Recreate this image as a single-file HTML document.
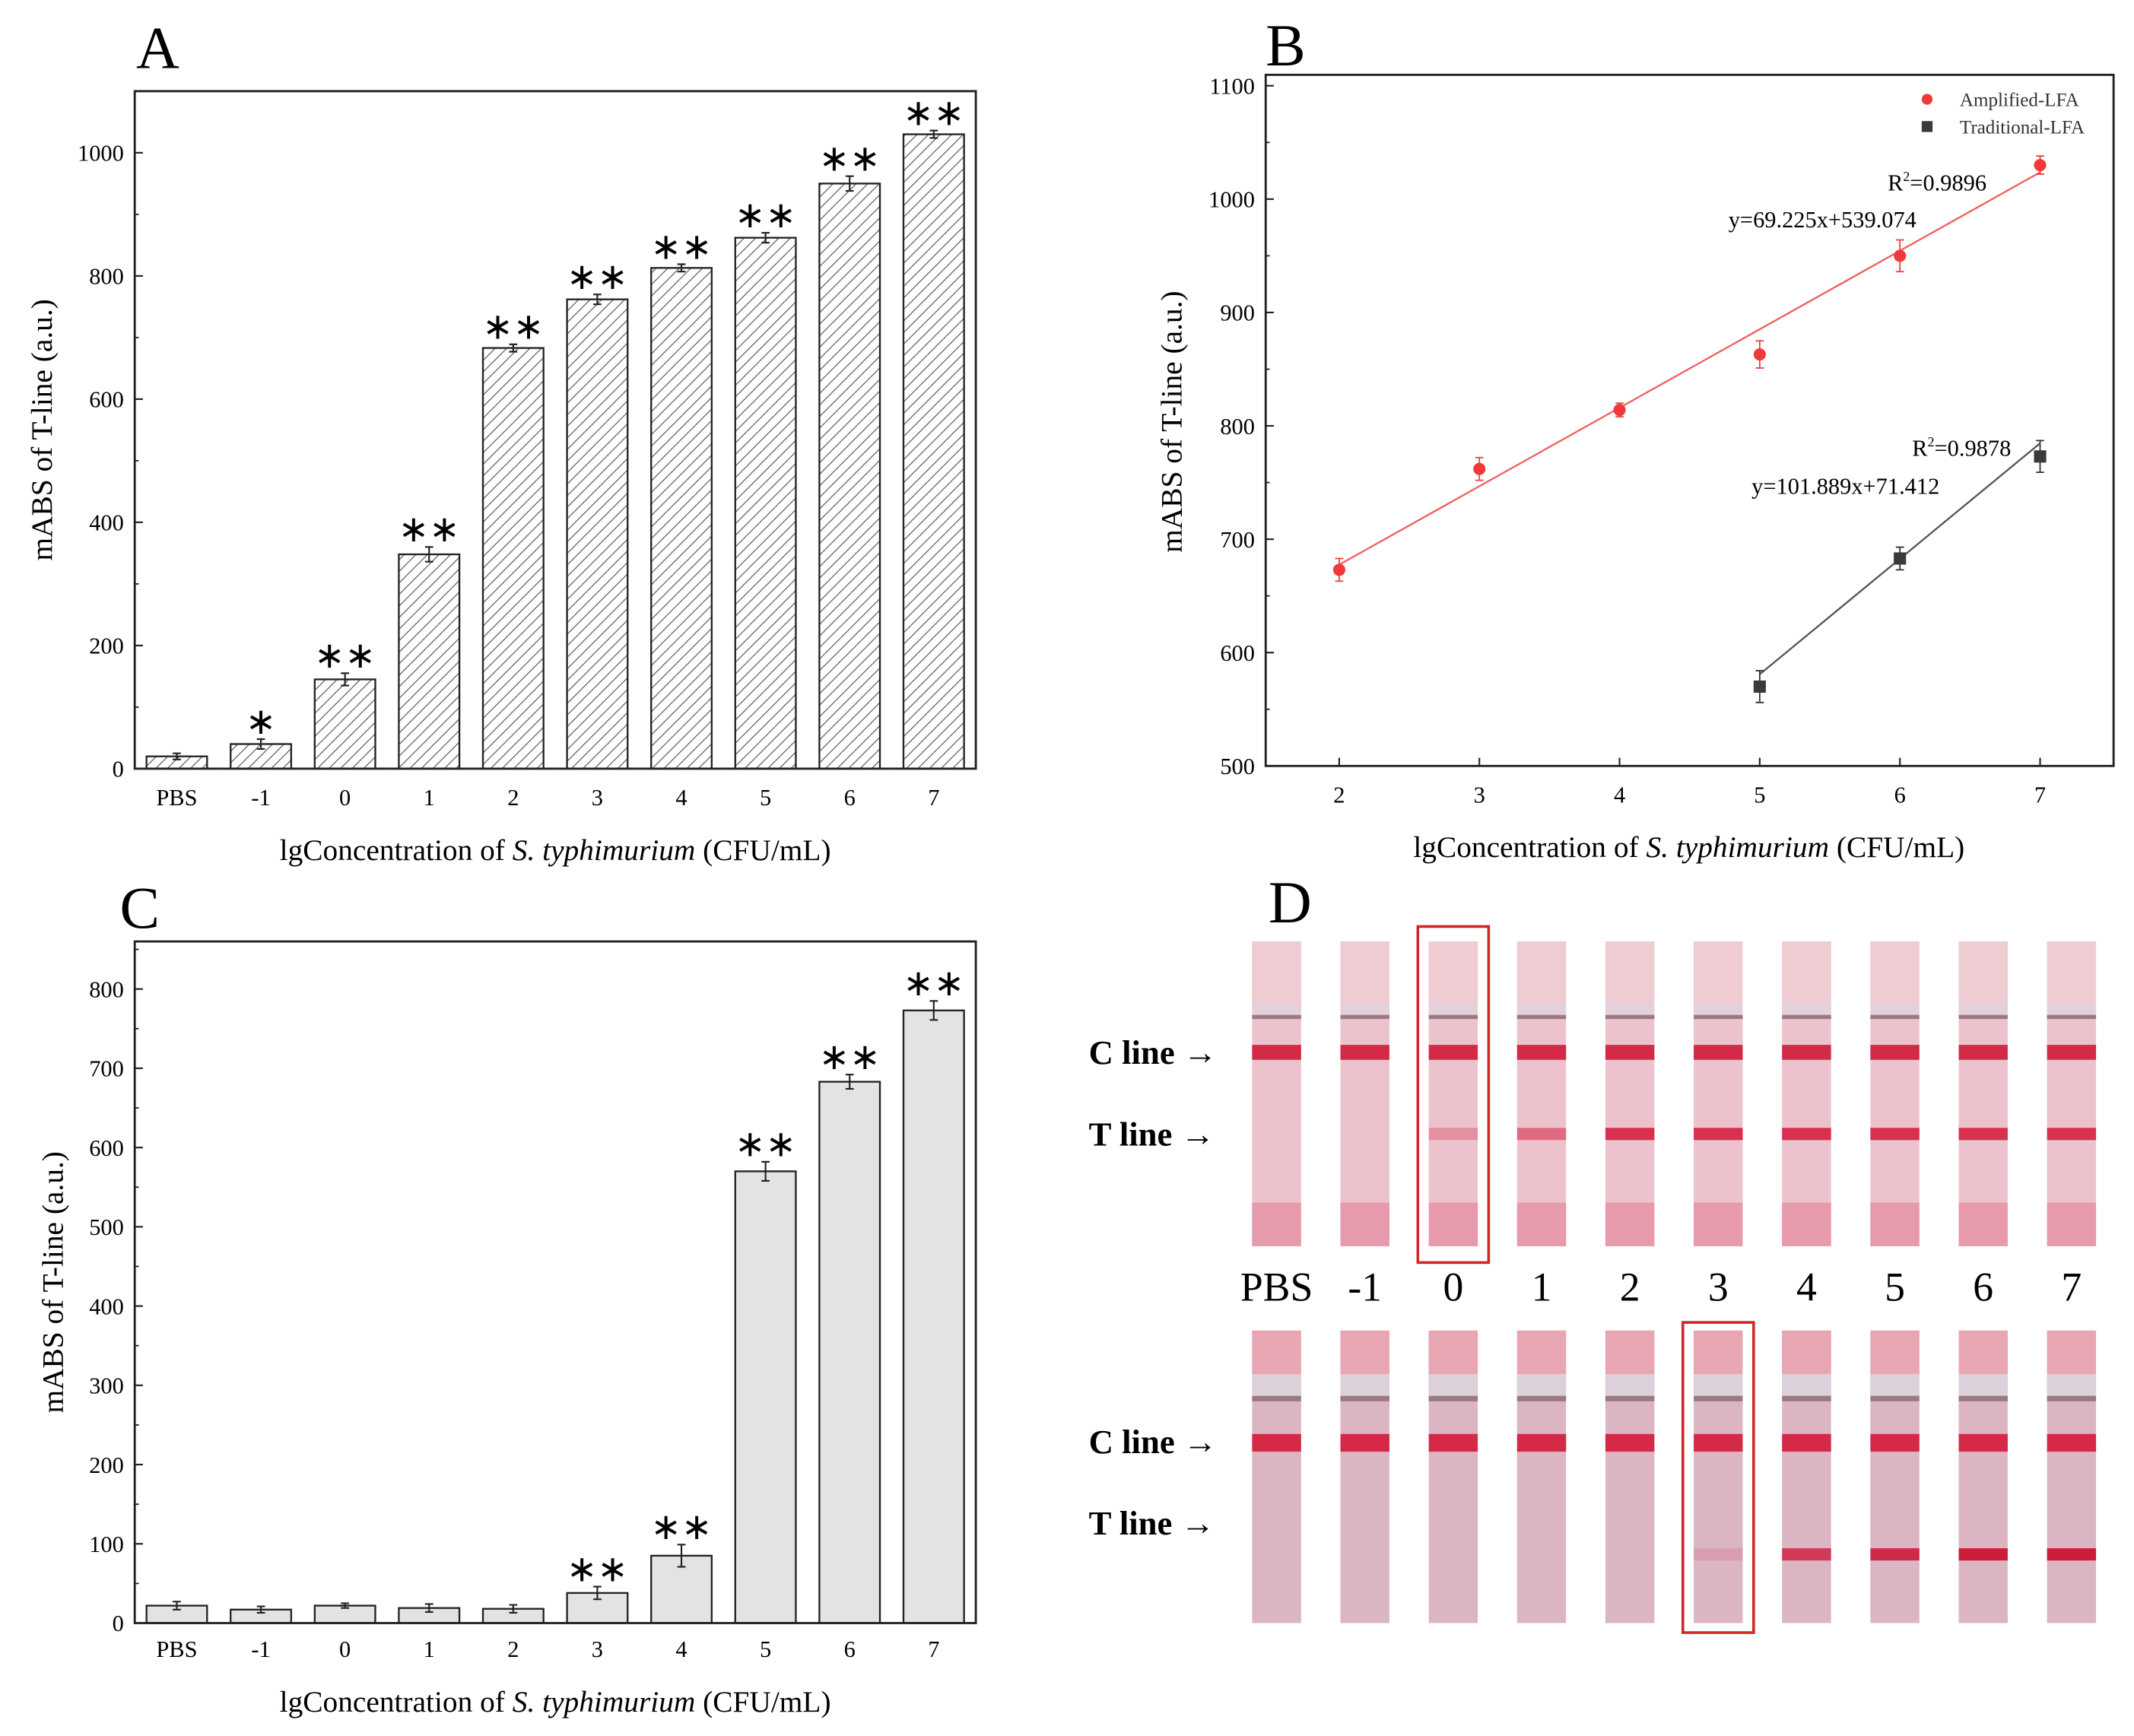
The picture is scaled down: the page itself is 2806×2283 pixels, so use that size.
<!DOCTYPE html>
<html><head><meta charset="utf-8"><style>
html,body{margin:0;padding:0;background:#fff;}
svg{display:block;font-family:"Liberation Serif",serif;}
</style></head><body>
<svg id="fig" width="2806" height="2283" viewBox="0 0 1568 1276" preserveAspectRatio="none" xmlns="http://www.w3.org/2000/svg">
<defs>
<pattern id="hatch" patternUnits="userSpaceOnUse" width="6" height="6" patternTransform="rotate(45)">
<rect width="6" height="6" fill="#fff"/><line x1="0" y1="0" x2="0" y2="6" stroke="#555" stroke-width="1.3"/>
</pattern>
</defs>
</svg>
<script>
const catsA = ["PBS","-1","0","1","2","3","4","5","6","7"];
const valsA = [20,40,145,348,683,762,813,862,950,1030];
const errA = [5,8,10,12,6,8,6,8,12,6];
const starsA = ["","*","**","**","**","**","**","**","**","**"];
const ticksA = [0,200,400,600,800,1000];
const valsC = [22,17,22,19,18,38,85,570,683,773];
const errC = [5,4,3,5,5,8,14,12,9,12];
const starsC = ["","","","","","**","**","**","**","**"];
const ticksC = [0,100,200,300,400,500,600,700,800];
const xB = [2,3,4,5,6,7];
const ampB = [673,762,814,863,950,1030];
const ampErr = [10,10,6,12,14,8];
const tradX = [5,6,7];
const tradB = [570,683,773];
const tradErr = [14,10,14];
const ticksBy = [500,600,700,800,900,1000,1100];
const ticksBx = [2,3,4,5,6,7];
const stripLabels = ["PBS","-1","0","1","2","3","4","5","6","7"];
const tTop = [0,0,0.35,0.6,1,1,1,1,1,1];
const tBot = [0,0,0,0,0,0.15,0.8,0.9,1,1.1];

const NS="http://www.w3.org/2000/svg";
const svg=document.getElementById('fig');
function el(tag,attrs,parent,text){const e=document.createElementNS(NS,tag);for(const k in attrs)e.setAttribute(k,attrs[k]);if(text!==undefined)e.textContent=text;(parent||svg).appendChild(e);return e;}

function barPanel(letter,lx,ly,box,ymax,ticks,minor,vals,errs,stars,fill,xlabY,titleY,ytitleX){
  const g=el('g',{});
  
  
  const [x0,y0,x1,y1]=box;
  const Y=v=>y1-(v/ymax)*(y1-y0);
  const step=(x1-x0)/10;
  const X=i=>x0+step*(i+0.5);
  const t=el('text',{x:lx,y:ly,'font-size':44},g,letter);
  
  
  vals.forEach((v,i)=>{
    const w=step*0.72;
    const b=el('rect',{x:X(i)-w/2,y:Y(v),width:w,height:Y(0)-Y(v),fill:fill,stroke:'#222','stroke-width':1.3},g);
    
    
    const e=errs[i];
    el('path',{d:`M${X(i)},${Y(v+e)}V${Y(v-e)}M${X(i)-3},${Y(v+e)}h6M${X(i)-3},${Y(v-e)}h6`,stroke:'#222','stroke-width':1.2,fill:'none'},g);
    if(stars[i]){const s=el('text',{x:X(i),y:Y(v+e)-4,'font-size':27,'text-anchor':'middle','font-family':'DejaVu Sans, sans-serif'},g,stars[i].replace(/\*/g,'∗'));
      
      }
    const l=el('text',{x:X(i),y:xlabY,'font-size':17,'text-anchor':'middle'},g,catsA[i]);
    
    
  });
  ticks.forEach(v=>{
    el('line',{x1:x0,x2:x0+6,y1:Y(v),y2:Y(v),stroke:'#222','stroke-width':1.2},g);
    const l=el('text',{x:x0-8,y:Y(v)+6,'font-size':17,'text-anchor':'end'},g,String(v));
    
    
  });
  for(let v=minor;v<ymax;v+=minor*2){el('line',{x1:x0,x2:x0+3,y1:Y(v),y2:Y(v),stroke:'#222','stroke-width':1},g);}
  const f=el('rect',{x:x0,y:y0,width:x1-x0,height:y1-y0,fill:'none',stroke:'#222','stroke-width':1.6},g);
  
  
  const xt=el('text',{x:(x0+x1)/2,y:titleY,'font-size':22,'text-anchor':'middle'},g);
  
  
  xt.innerHTML='lgConcentration of <tspan font-style="italic">S. typhimurium</tspan> (CFU/mL)';
  const yt=el('text',{x:0,y:0,'font-size':22,'text-anchor':'middle',transform:`translate(${ytitleX},${(y0+y1)/2}) rotate(-90)`},g,'mABS of T-line (a.u.)');
  
  
}
barPanel('A',100,50,[99,67,717,565],1100,ticksA,100,valsA,errA,starsA,'url(#hatch)',592,632,38);
barPanel('C',88,682,[99,692,717,1193],860,ticksC,50,valsC,errC,starsC,'#e3e3e3',1218,1258,46);

// Panel B
(function(){
  const g=el('g',{});
  
  
  const x0=930,x1=1553,y0=55,y1=563;
  const X=v=>984+(v-2)*103;
  const Y=v=>563-(v-500)*0.8333;
  const t=el('text',{x:930,y:48,'font-size':44},g,'B');
  
  
  ticksBy.forEach(v=>{
    el('line',{x1:x0,x2:x0+6,y1:Y(v),y2:Y(v),stroke:'#222','stroke-width':1.2},g);
    if(v<1100)el('line',{x1:x0,x2:x0+3,y1:Y(v+50),y2:Y(v+50),stroke:'#222'},g);
    const l=el('text',{x:x0-8,y:Y(v)+6,'font-size':17,'text-anchor':'end'},g,String(v));
    
    
  });
  ticksBx.forEach(v=>{
    el('line',{x1:X(v),x2:X(v),y1:y1,y2:y1-6,stroke:'#222','stroke-width':1.2},g);
    const l=el('text',{x:X(v),y:590,'font-size':17,'text-anchor':'middle'},g,String(v));
    
    
  });
  const f=el('rect',{x:x0,y:y0,width:x1-x0,height:y1-y0,fill:'none',stroke:'#222','stroke-width':1.6},g);
  
  
  const rl=el('line',{x1:X(2),y1:Y(69.225*2+539.074),x2:X(7),y2:Y(69.225*7+539.074),stroke:'#f06060','stroke-width':1.3},g);
  
  
  const gl=el('line',{x1:X(5),y1:Y(101.889*5+71.412),x2:X(7),y2:Y(101.889*7+71.412),stroke:'#555','stroke-width':1.3},g);
  
  
  xB.forEach((x,i)=>{
    const v=ampB[i],e=ampErr[i];
    el('path',{d:`M${X(x)},${Y(v+e)}V${Y(v-e)}M${X(x)-3},${Y(v+e)}h6M${X(x)-3},${Y(v-e)}h6`,stroke:'#e84040',fill:'none'},g);
    const p=el('circle',{cx:X(x),cy:Y(v),r:4.5,fill:'#f03a3a'},g);
    
    
  });
  tradX.forEach((x,i)=>{
    const v=tradB[i],e=tradErr[i];
    el('path',{d:`M${X(x)},${Y(v+e)}V${Y(v-e)}M${X(x)-3},${Y(v+e)}h6M${X(x)-3},${Y(v-e)}h6`,stroke:'#333',fill:'none'},g);
    const p=el('rect',{x:X(x)-4.5,y:Y(v)-4.5,width:9,height:9,fill:'#3a3a3a'},g);
    
    
  });
  const lg=el('g',{},g);
  
  
  el('circle',{cx:1416,cy:73,r:4,fill:'#f03a3a'},lg);
  el('text',{x:1440,y:78,'font-size':14,fill:'#333'},lg,'Amplified-LFA');
  el('rect',{x:1412,y:89,width:8,height:8,fill:'#3a3a3a'},lg);
  el('text',{x:1440,y:98,'font-size':14,fill:'#333'},lg,'Traditional-LFA');
  const a1=el('text',{x:1387,y:140,'font-size':17},g);a1.innerHTML='R<tspan font-size="10" dy="-7">2</tspan><tspan dy="7">=0.9896</tspan>';
  
  
  const a2=el('text',{x:1270,y:167,'font-size':17},g,'y=69.225x+539.074');
  
  
  const a3=el('text',{x:1405,y:335,'font-size':17},g);a3.innerHTML='R<tspan font-size="10" dy="-7">2</tspan><tspan dy="7">=0.9878</tspan>';
  
  
  const a4=el('text',{x:1287,y:363,'font-size':17},g,'y=101.889x+71.412');
  
  
  const xt=el('text',{x:1241,y:630,'font-size':22,'text-anchor':'middle'},g);
  xt.innerHTML='lgConcentration of <tspan font-style="italic">S. typhimurium</tspan> (CFU/mL)';
  
  
  const yt=el('text',{x:0,y:0,'font-size':22,'text-anchor':'middle',transform:'translate(868,310) rotate(-90)'},g,'mABS of T-line (a.u.)');
  
  
})();

// Panel D
(function(){
  const g=el('g',{});
  
  
  const t=el('text',{x:932,y:678,'font-size':44},g,'D');
  
  
  const W=36,cx=i=>938+i*64.9;
  stripLabels.forEach((lab,i)=>{
    const x=cx(i)-W/2;
    const s=el('g',{},g);
    
    
    el('rect',{x:x,y:692,width:W,height:224,fill:'#ecc3cc'},s);
    el('rect',{x:x,y:692,width:W,height:45,fill:'#efccd2'},s);
    el('rect',{x:x,y:737,width:W,height:10,fill:'#e4d0d8'},s);
    el('rect',{x:x,y:746,width:W,height:3,fill:'#9a7a80'},s);
    el('rect',{x:x,y:768,width:W,height:11,fill:'#d42a48'},s);
    if(tTop[i]>0)el('rect',{x:x,y:829,width:W,height:9,fill:'#d8304e','fill-opacity':tTop[i]},s);
    el('rect',{x:x,y:884,width:W,height:32,fill:'#e69aab'},s);
    const bl=el('g',{},g);
    
    
    el('rect',{x:x,y:978,width:W,height:215,fill:'#dbb6c2'},bl);
    el('rect',{x:x,y:978,width:W,height:32,fill:'#e8a6b2'},bl);
    el('rect',{x:x,y:1010,width:W,height:16,fill:'#dcd0da'},bl);
    el('rect',{x:x,y:1026,width:W,height:4,fill:'#9a7a80'},bl);
    el('rect',{x:x,y:1054,width:W,height:13,fill:'#d42a48'},bl);
    if(tBot[i]>0)el('rect',{x:x,y:1138,width:W,height:9,fill:'#cc1c3c','fill-opacity':Math.min(1,tBot[i])},bl);
    const l=el('text',{x:cx(i),y:956,'font-size':30,'text-anchor':'middle'},g,lab);
    
    
  });
  [[774,'C line →'],[834,'T line →'],[1060,'C line →'],[1120,'T line →']].forEach(([y,s])=>{
    const l=el('text',{x:800,y:y+8,'font-size':25,'font-weight':'bold'},g,s);
    
    
  });
  const r1=el('rect',{x:cx(2)-26,y:681,width:52,height:247,fill:'none',stroke:'#d02828','stroke-width':2},g);
  
  
  const r2=el('rect',{x:cx(5)-26,y:972,width:52,height:228,fill:'none',stroke:'#d02828','stroke-width':2},g);
  
  
})();
</script>
</body></html>
